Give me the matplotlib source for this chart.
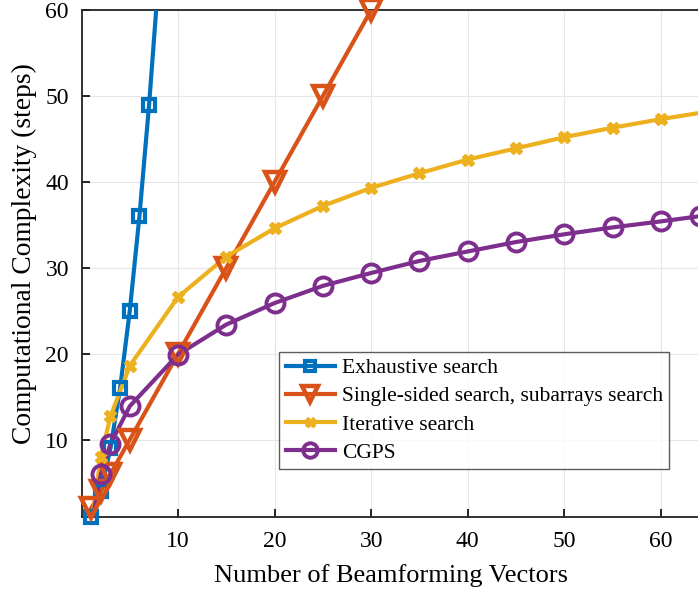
import matplotlib
matplotlib.use("Agg")
import matplotlib.pyplot as plt
from matplotlib.lines import Line2D

# Data
x_exh = [1, 2, 3, 4, 5, 6, 7, 8]
y_exh = [1, 4, 9, 16, 25, 36, 49, 64]

x_ss = [1, 2, 3, 5, 10, 15, 20, 25, 30, 35]
y_ss = [2, 4, 6, 10, 20, 30, 40, 50, 60, 70]

x_it = [1, 2, 3, 5, 10, 15, 20, 25, 30, 35, 40, 45, 50, 55, 60, 65]
y_it = [0, 8, 12.7, 18.6, 26.6, 31.3, 34.6, 37.2, 39.3, 41.0, 42.6, 43.9, 45.2, 46.3, 47.3, 48.2]

x_cg = [1, 2, 3, 5, 10, 15, 20, 25, 30, 35, 40, 45, 50, 55, 60, 64]
y_cg = [0, 6, 9.5, 13.9, 19.9, 23.4, 25.9, 27.9, 29.4, 30.8, 31.9, 33.0, 33.9, 34.7, 35.4, 36.0]

labels = ["Exhaustive search", "Single-sided search, subarrays search",
          "Iterative search", "CGPS"]
colors = ["#0072BD", "#D95319", "#EDB120", "#7E2F8E"]
markers = ["s", "v", "X", "o"]
msizes = [9, 15, 9, 13]
mews = [3, 3.2, 1.0, 2.8]
mfcs = ["none", "none", None, "none"]

xticks = [10, 20, 30, 40, 50, 60]
yticks = [10, 20, 30, 40, 50, 60]
XMIN, XMAX, YMIN, YMAX = 0, 64, 1, 60

plt.rcParams['font.family'] = ['Liberation Serif', 'DejaVu Serif']

fig = plt.figure(figsize=(6.98, 5.92), dpi=100)
ax = fig.add_axes([81.5 / 698, 1 - 517 / 592, (699.5 - 81.5) / 698, (517 - 10) / 592])

series = [(x_exh, y_exh), (x_ss, y_ss), (x_it, y_it), (x_cg, y_cg)]
handles = []
for (xs, ys), c, m, ms, mew, mfc, lab in zip(series, colors, markers, msizes, mews, mfcs, labels):
    ax.plot(xs, ys, color=c, lw=3, zorder=3)
    xin = [a for a, b in zip(xs, ys) if YMIN <= b <= YMAX and XMIN <= a <= XMAX]
    yin = [b for a, b in zip(xs, ys) if YMIN <= b <= YMAX and XMIN <= a <= XMAX]
    kw = dict(markerfacecolor=(mfc if mfc else c))
    ax.plot(xin, yin, ls="none", marker=m, ms=ms, mec=c, mew=mew, zorder=4,
            clip_on=(c == colors[3]), **kw)
    handles.append(Line2D([], [], color=c, lw=3, marker=m, ms=ms * 0.8, mec=c,
                          mew=mew, **kw))

ax.set_xlim(XMIN, XMAX)
ax.set_ylim(YMIN, YMAX)
ax.set_xticks(xticks)
ax.set_yticks(yticks)
ax.tick_params(direction="in", length=6, width=1.2, labelsize=17)
ax.tick_params(axis="x", pad=10)
ax.tick_params(axis="y", pad=9)
ax.grid(True, color="#e6e6e6", lw=0.8)
ax.set_axisbelow(True)
for s in ax.spines.values():
    s.set_linewidth(1.3)
    s.set_color("#222222")

ax.set_xlabel("Number of Beamforming Vectors", fontsize=19, labelpad=9)
ax.set_ylabel("Computational Complexity (steps)", fontsize=19.8)
ax.yaxis.set_label_coords(-0.072, 0.52)

leg = ax.legend(handles, labels, loc="upper left", bbox_to_anchor=(0.32, 0.326),
                fontsize=15.5, frameon=True, fancybox=False, edgecolor="#333333",
                handlelength=2.3, handletextpad=0.3, borderpad=0.3, labelspacing=0.38,
                borderaxespad=0)
leg.get_frame().set_linewidth(1.0)

fig.savefig("out.png", dpi=100)
